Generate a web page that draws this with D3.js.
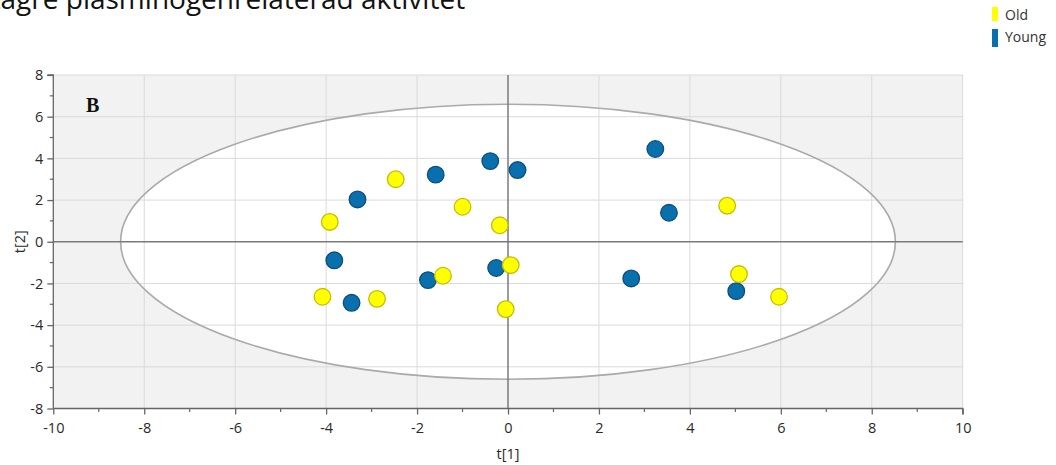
<!DOCTYPE html>
<html>
<head>
<meta charset="utf-8">
<script src="https://cdn.jsdelivr.net/npm/d3@7"></script>
<style>
  body { margin: 0; background: #fff; overflow: hidden; }
  svg { display: block; }
</style>
</head>
<body>
<script>
// scores t[1], t[2] per grupp
var oldX = [-4.08, -3.92, -2.47, -2.88, -1.43, -1.0, -0.18, 0.06, -0.05, 4.82, 5.08, 5.96];
var oldY = [-2.64, 0.95, 3.0, -2.74, -1.63, 1.68, 0.79, -1.12, -3.23, 1.73, -1.55, -2.64];
var youngX = [-3.82, -3.44, -3.31, -1.59, -1.76, -0.39, 0.21, -0.26, 2.71, 3.24, 3.54, 5.02];
var youngY = [-0.89, -2.93, 2.03, 3.22, -1.84, 3.87, 3.44, -1.26, -1.76, 4.45, 1.39, -2.37];
var xTicks = [-10, -8, -6, -4, -2, 0, 2, 4, 6, 8, 10];
var yTicks = [-8, -6, -4, -2, 0, 2, 4, 6, 8];
var ellipseR = [8.52, 6.6];
var groups = ["Old", "Young"];
var groupColors = ["#ffff00", "#0a6fad"];
var groupStroke = ["#c4bd00", "#0a4f7c"];
var title = "Lägre plasminogenrelaterad aktivitet";

var W = 1056, H = 465;
var svg = d3.select("body").append("svg")
  .attr("width", W).attr("height", H);

var x = d3.scaleLinear().domain([-10, 10]).range([53.3, 962.7]);
var y = d3.scaleLinear().domain([-8, 8]).range([408.5, 75]);

// titel, överkant och första bokstav utanför bilden
var t = svg.append("text")
  .attr("font-family", "Open Sans")
  .attr("font-size", 24)
  .attr("fill", "#111")
  .text(title);
var full = t.node().getComputedTextLength();
var tmp = svg.append("text").attr("font-family", "Open Sans").attr("font-size", 24).text("L");
var lw = tmp.node().getComputedTextLength();
tmp.remove();
var fs = 24 * 465 / (full - lw);
t.attr("font-size", fs).attr("x", -lw * fs / 24 + 0.5).attr("y", 9);

// plottyta
svg.append("rect")
  .attr("x", x(-10)).attr("y", y(8))
  .attr("width", x(10) - x(-10)).attr("height", y(-8) - y(8))
  .attr("fill", "#f2f2f2");

svg.append("ellipse")
  .attr("cx", x(0)).attr("cy", y(0))
  .attr("rx", x(ellipseR[0]) - x(0)).attr("ry", y(0) - y(ellipseR[1]))
  .attr("fill", "#fff");

// rutnät
svg.append("g").selectAll("line")
  .data(xTicks.filter(function(d) { return d != 0 && d != -10; }))
  .enter().append("line")
  .attr("x1", function(d) { return x(d); }).attr("x2", function(d) { return x(d); })
  .attr("y1", y(8)).attr("y2", y(-8))
  .attr("stroke", "#dadada").attr("stroke-width", 1);

svg.append("g").selectAll("line")
  .data(yTicks.filter(function(d) { return d != 0 && d != -8; }))
  .enter().append("line")
  .attr("x1", x(-10)).attr("x2", x(10))
  .attr("y1", function(d) { return y(d); }).attr("y2", function(d) { return y(d); })
  .attr("stroke", "#dadada").attr("stroke-width", 1);

svg.append("ellipse")
  .attr("cx", x(0)).attr("cy", y(0))
  .attr("rx", x(ellipseR[0]) - x(0)).attr("ry", y(0) - y(ellipseR[1]))
  .attr("fill", "none").attr("stroke", "#aaaaaa").attr("stroke-width", 1.6);

// nollinjer
svg.append("line")
  .attr("x1", x(-10)).attr("x2", x(10)).attr("y1", y(0)).attr("y2", y(0))
  .attr("stroke", "#7a7a7a").attr("stroke-width", 1.5);
svg.append("line")
  .attr("x1", x(0)).attr("x2", x(0)).attr("y1", y(8)).attr("y2", y(-8))
  .attr("stroke", "#7a7a7a").attr("stroke-width", 1.5);

// axlar, bindestreck som minustecken
var fmt = function(d) { return String(d); };
var xAxis = svg.append("g")
  .attr("transform", "translate(0," + y(-8) + ")")
  .call(d3.axisBottom(x).tickValues(xTicks).tickSize(6).tickPadding(8).tickFormat(fmt));
var yAxis = svg.append("g")
  .attr("transform", "translate(" + x(-10) + ",0)")
  .call(d3.axisLeft(y).tickValues(yTicks).tickSize(6).tickPadding(4).tickFormat(fmt));

[xAxis, yAxis].forEach(function(a) {
  a.select(".domain").attr("stroke", "#666").attr("stroke-width", 1.3);
  a.selectAll(".tick line").attr("stroke", "#666").attr("stroke-width", 1.3);
  a.selectAll(".tick text")
    .attr("font-family", "Open Sans").attr("font-size", 14.5).attr("fill", "#2a2a2a");
});
xAxis.select(".domain").attr("d", "M" + x(-10) + ",0H" + x(10) + "V6");
yAxis.select(".domain").attr("d", "M-6," + y(8) + "H0V" + y(-8));

// mindre tickar
svg.append("g").selectAll("line")
  .data(d3.range(-9, 10, 2))
  .enter().append("line")
  .attr("x1", function(d) { return x(d); }).attr("x2", function(d) { return x(d); })
  .attr("y1", y(-8)).attr("y2", y(-8) + 3.5)
  .attr("stroke", "#666").attr("stroke-width", 1.2);
svg.append("g").selectAll("line")
  .data(d3.range(-7, 8, 2))
  .enter().append("line")
  .attr("x1", x(-10) - 3.5).attr("x2", x(-10))
  .attr("y1", function(d) { return y(d); }).attr("y2", function(d) { return y(d); })
  .attr("stroke", "#666").attr("stroke-width", 1.2);

// axeltitlar
svg.append("text")
  .attr("x", x(0)).attr("y", 459)
  .attr("text-anchor", "middle")
  .attr("font-family", "Open Sans").attr("font-size", 14.5).attr("fill", "#2a2a2a")
  .text("t[1]");
svg.append("text")
  .attr("transform", "translate(25," + y(0) + ") rotate(-90)")
  .attr("text-anchor", "middle")
  .attr("font-family", "Open Sans").attr("font-size", 14.5).attr("fill", "#2a2a2a")
  .text("t[2]");

svg.append("text")
  .attr("x", 86).attr("y", 111.5)
  .attr("font-family", "Liberation Serif").attr("font-weight", "bold")
  .attr("font-size", 20).attr("fill", "#111")
  .text("B");

// punkter
function drawPoints(xs, ys, i) {
  svg.append("g").selectAll("circle")
    .data(xs.map(function(v, k) { return [v, ys[k]]; }))
    .enter().append("circle")
    .attr("cx", function(d) { return x(d[0]); })
    .attr("cy", function(d) { return y(d[1]); })
    .attr("r", 8.3)
    .attr("fill", groupColors[i])
    .attr("stroke", groupStroke[i])
    .attr("stroke-width", 1.3);
}
drawPoints(youngX, youngY, 1);
drawPoints(oldX, oldY, 0);

// legend
var leg = svg.append("g").selectAll("g")
  .data(groups)
  .enter().append("g")
  .attr("transform", function(d, i) { return "translate(992," + (7 + i * 22) + ")"; });
leg.append("rect")
  .attr("width", 6).attr("height", function(d, i) { return i == 0 ? 14 : 18; })
  .attr("fill", function(d, i) { return groupColors[i]; });
leg.append("text")
  .attr("x", 13).attr("y", 12.5)
  .attr("font-family", "Open Sans").attr("font-size", 14).attr("fill", "#333")
  .text(function(d) { return d; });
</script>
</body>
</html>
